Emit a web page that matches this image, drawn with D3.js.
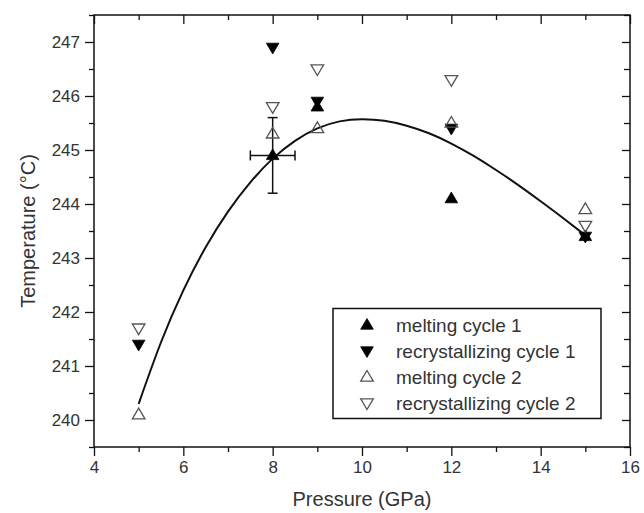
<!DOCTYPE html>
<html>
<head>
<meta charset="utf-8">
<script src="https://cdn.jsdelivr.net/npm/d3@7"></script>
<style>
  html, body { margin: 0; padding: 0; background: #fff; }
  svg { display: block; font-family: "Liberation Sans", Arial, sans-serif; }
</style>
</head>
<body>
<svg id="chart" width="644" height="513"></svg>
<script>
// Melting / recrystallizing temperatures versus pressure
const pressures = [5, 8, 9, 12, 15];
const meltingCycle1 = [null, 244.9, 245.8, 244.1, 243.4];
const recrystCycle1 = [241.4, 246.9, 245.9, 245.4, 243.4];
const meltingCycle2 = [240.1, 245.3, 245.4, 245.5, 243.9];
const recrystCycle2 = [241.7, 245.8, 246.5, 246.3, 243.6];

// error bar on the 8 GPa melting point
const errPoint = { p: 8, t: 244.9, dp: 0.5, dt: 0.7 };

// fitted trend curve, sampled every 0.5 GPa
const fitP = [5, 5.5, 6, 6.5, 7, 7.5, 8, 8.5, 9, 9.5, 10, 10.5, 11, 11.5, 12, 12.5, 13, 13.5, 14, 14.5, 15];
const fitT = [240.30, 241.44, 242.40, 243.20, 243.86, 244.40, 244.84, 245.17, 245.40, 245.53, 245.57,
              245.54, 245.45, 245.31, 245.12, 244.89, 244.63, 244.35, 244.05, 243.74, 243.42];

const xTicks = [4, 6, 8, 10, 12, 14, 16];
const yTicks = [240, 241, 242, 243, 244, 245, 246, 247];

const seriesNames = ["melting cycle 1", "recrystallizing cycle 1", "melting cycle 2", "recrystallizing cycle 2"];

const svg = d3.select("#chart");
const plotL = 94, plotT = 15, plotR = 630, plotB = 447;

const x = d3.scaleLinear().domain([4, 16]).range([plotL, plotR]);
const y = d3.scaleLinear().domain([239.5, 247.5]).range([plotB, plotT]);

const ink = "#111";
const textCol = "#333";

// triangle marker paths centred on the point
const upTri = "M0,-6.5L6.3,4.2L-6.3,4.2Z";
const downTri = "M0,6.5L6.3,-4.2L-6.3,-4.2Z";
const styles = [
  { path: upTri, fill: "#000", stroke: "#000", sw: 0.8 },
  { path: downTri, fill: "#000", stroke: "#000", sw: 0.8 },
  { path: upTri, fill: "none", stroke: "#555", sw: 1.3 },
  { path: downTri, fill: "none", stroke: "#555", sw: 1.3 }
];

// axes: outer ticks on bottom/left, inner ticks on top/right
function axisTicks(g, axis) { g.call(axis); g.select(".domain").remove(); g.selectAll("line").attr("stroke", ink).attr("stroke-width", 1.3); }

const xMinor = d3.range(5, 16, 2);
const yMinor = d3.range(239.5, 247.6, 1);

svg.append("g").attr("transform", `translate(0,${plotB})`)
  .call(g => axisTicks(g, d3.axisBottom(x).tickValues(xTicks).tickSize(9).tickPadding(5).tickFormat(d3.format("d"))))
  .call(g => g.selectAll("text").attr("font-size", 17).attr("fill", textCol).attr("font-family", "Liberation Sans, Arial"));
svg.append("g").attr("transform", `translate(0,${plotB})`)
  .call(g => axisTicks(g, d3.axisBottom(x).tickValues(xMinor).tickSize(5).tickFormat("")));

svg.append("g").attr("transform", `translate(${plotL},0)`)
  .call(g => axisTicks(g, d3.axisLeft(y).tickValues(yTicks).tickSize(9).tickPadding(5).tickFormat(d3.format("d"))))
  .call(g => g.selectAll("text").attr("font-size", 17).attr("fill", textCol).attr("font-family", "Liberation Sans, Arial"));
svg.append("g").attr("transform", `translate(${plotL},0)`)
  .call(g => axisTicks(g, d3.axisLeft(y).tickValues(yMinor).tickSize(5).tickFormat("")));

svg.append("g").attr("transform", `translate(0,${plotT})`)
  .call(g => axisTicks(g, d3.axisBottom(x).tickValues(xTicks).tickSize(9).tickFormat("")));
svg.append("g").attr("transform", `translate(0,${plotT})`)
  .call(g => axisTicks(g, d3.axisBottom(x).tickValues(xMinor).tickSize(5).tickFormat("")));

svg.append("g").attr("transform", `translate(${plotR},0)`)
  .call(g => axisTicks(g, d3.axisLeft(y).tickValues(yTicks).tickSize(8).tickFormat("")));
svg.append("g").attr("transform", `translate(${plotR},0)`)
  .call(g => axisTicks(g, d3.axisLeft(y).tickValues(yMinor).tickSize(6).tickFormat("")));

// plot frame
svg.append("rect")
  .attr("x", plotL).attr("y", plotT)
  .attr("width", plotR - plotL).attr("height", plotB - plotT)
  .attr("fill", "none").attr("stroke", ink).attr("stroke-width", 1.5);

// axis titles
svg.append("text")
  .attr("x", (plotL + plotR) / 2).attr("y", 506)
  .attr("text-anchor", "middle").attr("font-size", 20).attr("fill", textCol)
  .text("Pressure (GPa)");
svg.append("text")
  .attr("transform", `translate(35,${(plotT + plotB) / 2}) rotate(-90)`)
  .attr("text-anchor", "middle").attr("font-size", 20).attr("fill", textCol)
  .text("Temperature (°C)");

// trend curve
const fitData = fitP.map((p, i) => [p, fitT[i]]);
svg.append("path")
  .datum(fitData)
  .attr("fill", "none").attr("stroke", ink).attr("stroke-width", 2)
  .attr("d", d3.line().x(d => x(d[0])).y(d => y(d[1])).curve(d3.curveNatural));

// error bars
const eb = svg.append("g").attr("stroke", ink).attr("stroke-width", 1.5);
eb.append("line").attr("x1", x(errPoint.p)).attr("x2", x(errPoint.p))
  .attr("y1", y(errPoint.t - errPoint.dt)).attr("y2", y(errPoint.t + errPoint.dt));
[errPoint.t - errPoint.dt, errPoint.t + errPoint.dt].forEach(t => {
  eb.append("line").attr("x1", x(errPoint.p) - 5).attr("x2", x(errPoint.p) + 5)
    .attr("y1", y(t)).attr("y2", y(t));
});
eb.append("line").attr("y1", y(errPoint.t)).attr("y2", y(errPoint.t))
  .attr("x1", x(errPoint.p - errPoint.dp)).attr("x2", x(errPoint.p + errPoint.dp));
[errPoint.p - errPoint.dp, errPoint.p + errPoint.dp].forEach(p => {
  eb.append("line").attr("x1", x(p)).attr("x2", x(p))
    .attr("y1", y(errPoint.t) - 5).attr("y2", y(errPoint.t) + 5);
});

// data markers
const allSeries = [meltingCycle1, recrystCycle1, meltingCycle2, recrystCycle2];
allSeries.forEach((vals, si) => {
  const st = styles[si];
  svg.append("g").selectAll("path")
    .data(pressures.map((p, i) => ({ p, t: vals[i] })).filter(d => d.t !== null))
    .join("path")
    .attr("transform", d => `translate(${x(d.p)},${y(d.t)})`)
    .attr("d", st.path)
    .attr("fill", st.fill).attr("stroke", st.stroke).attr("stroke-width", st.sw)
    .attr("stroke-linejoin", "miter");
});

// legend
const lg = svg.append("g");
lg.append("rect").attr("x", 333).attr("y", 308.5).attr("width", 268).attr("height", 110)
  .attr("fill", "#fff").attr("stroke", ink).attr("stroke-width", 1.5);
seriesNames.forEach((name, i) => {
  const st = styles[i];
  const cy = 325 + i * 26;
  lg.append("path").attr("transform", `translate(367,${cy})`).attr("d", st.path)
    .attr("fill", st.fill).attr("stroke", st.stroke).attr("stroke-width", st.sw);
  lg.append("text").attr("x", 396).attr("y", cy).attr("dy", "0.35em")
    .attr("font-size", 19).attr("fill", textCol).text(name);
});
</script>
</body>
</html>
